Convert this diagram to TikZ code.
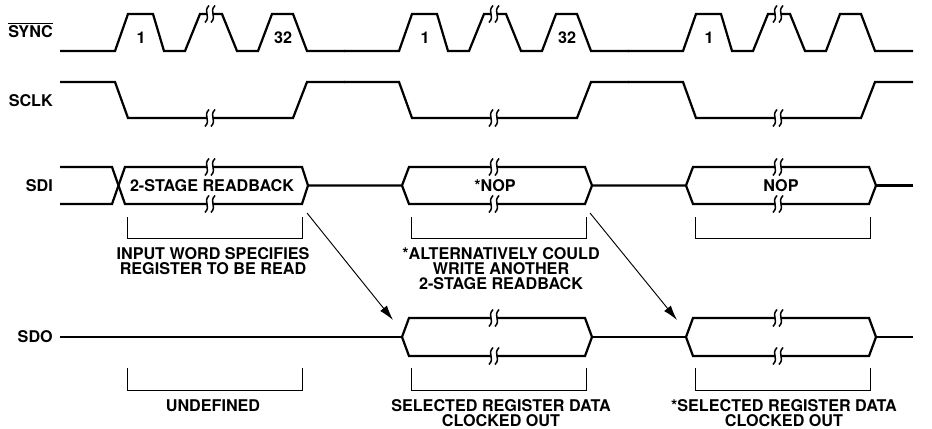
\documentclass[tikz,border=0pt]{standalone}
\usepackage{fontspec}
\setmainfont{TeX Gyre Heros}
\usetikzlibrary{arrows.meta}

\tikzset{
  wave/.style={line width=1.9pt},
  brace/.style={line width=0.8pt},
  txt/.style={font=\bfseries\fontsize{13.8}{12.8}\selectfont, inner sep=0pt, align=center},
  arr/.style={line width=0.8pt, -{Latex[length=4.5mm,width=2.6mm]}}
}

\newcommand{\wbreak}[2]{%
  \begin{scope}[shift={(#1,#2)}]
    \fill[white] (-3,-3) rectangle (3,3);
    \draw[line width=1.3pt] (-1,-8.5) .. controls (-7.5,-1.5) and (1.5,1.5) .. (-5,8.5);
    \draw[line width=1.3pt] (5,-8.5) .. controls (-1.5,-1.5) and (7.5,1.5) .. (1,8.5);
  \end{scope}}

\begin{document}
\begin{tikzpicture}[x=0.03cm,y=-0.03cm]
  \def \sdtop {167}
  \def \sdbot {204}
  \def \sdmid {185.5}
  \def \dotop {318}
  \def \dobot {356}
  \def \domid {337}

  \useasboundingbox (0,0) rectangle (932,429);

  \node[txt,anchor=east] (sync) at (53,30) {$\overline{\hbox{SYNC}}$};
  \node[txt,anchor=east] (sclk) at (53,101) {SCLK};
  \node[txt,anchor=east] (sdi) at (53,186) {SDI};
  \node[txt,anchor=east] (sdo) at (53,337) {SDO};

  \foreach \g in {115,399,683}{
    \begin{scope}[shift={(\g,0)}]
      \draw[wave] (-55,51) -- (0,51) -- (13,14) -- (38,14) -- (49,51) -- (70,51) -- (85,14) -- (107,14)
        -- (122,51) -- (143,51) -- (157,14) -- (178,14) -- (192,51) -- (230,51);
      \wbreak{95}{14}
      \draw[wave] (-55,82) -- (0,82) -- (13,118) -- (178,118) -- (192,82) -- (230,82);
      \wbreak{95}{118}
      \node[txt] (one\g) at (26,38) {1};
      \draw[brace] (12,217) |- (187,238) -- (187,217);
      \draw[brace] (12,368) |- (187,390) -- (187,368);
    \end{scope}
  }
  \foreach \g in {115,399}{
    \node[txt] (tt\g) at (\g+168,38) {32};
  }

  \draw[wave] (60,\sdtop) -- (112,\sdtop) -- (125,\sdbot) -- (302,\sdbot) -- (308,\sdmid);
  \draw[wave] (60,\sdbot) -- (112,\sdbot) -- (125,\sdtop) -- (302,\sdtop) -- (308,\sdmid);
  \wbreak{210}{\sdtop}
  \wbreak{210}{\sdbot}
  \draw[wave] (60,\domid) -- (402,\domid);

  \foreach \g in {399,683}{
    \begin{scope}[shift={(\g,0)}]
      \draw[wave] (-91,\sdmid) -- (3,\sdmid) -- (10,\sdtop) -- (186,\sdtop) -- (193,\sdmid)
        -- (186,\sdbot) -- (10,\sdbot) -- (3,\sdmid);
      \wbreak{95}{\sdtop}
      \wbreak{95}{\sdbot}
      \draw[wave] (3,\domid) -- (10,\dotop) -- (186,\dotop) -- (193,\domid)
        -- (186,\dobot) -- (10,\dobot) -- cycle;
      \wbreak{95}{\dotop}
      \wbreak{95}{\dobot}
    \end{scope}
  }
  \draw[wave] (592,\domid) -- (686,\domid);
  \draw[wave] (876,\sdmid) -- (913,\sdmid);
  \draw[wave] (876,\domid) -- (913,\domid);

  \node[txt] (rdbk) at (212,186) {2-STAGE READBACK};
  \node[txt] (nopa) at (495,186) {*NOP};
  \node[txt] (nopb) at (781,186) {NOP};

  \coordinate (rba) at (307,213);
  \coordinate (doa) at (393,320);
  \coordinate (rbb) at (590,213);
  \coordinate (dob) at (677,320);
  \draw[arr] (rba) -- (doa);
  \draw[arr] (rbb) -- (dob);

  \node[txt,anchor=north] (inword) at (213,247) {INPUT WORD SPECIFIES\\REGISTER TO BE READ};
  \node[txt,anchor=north] (altern) at (501,247) {*ALTERNATIVELY COULD\\WRITE ANOTHER\\2-STAGE READBACK};
  \node[txt,anchor=north] (undef) at (213,399) {UNDEFINED};
  \node[txt,anchor=north] (selout) at (501,399) {SELECTED REGISTER DATA\\CLOCKED OUT};
  \node[txt,anchor=north] (seloutb) at (784,399) {*SELECTED REGISTER DATA\\CLOCKED OUT};
\end{tikzpicture}
\end{document}
